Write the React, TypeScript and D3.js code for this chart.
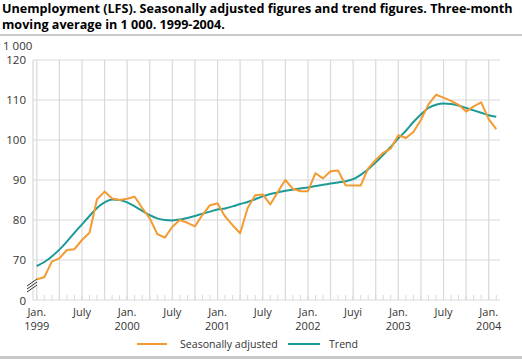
import React from 'react';
import * as d3 from 'd3';

// monthly values, Jan 1999 - Feb 2004 (1 000 persons)
const seasonal = [
  65.2, 65.7, 69.6, 70.4, 72.5, 72.7, 75, 76.8, 85.2, 87.1, 85.4, 85,
  85.3, 85.8, 83, 80.4, 76.5, 75.6, 78.3, 80, 79.3, 78.4, 81.3, 83.7,
  84.2, 80.9, 78.7, 76.7, 83, 86.2, 86.4, 83.9, 87, 90, 87.8, 87.2,
  87.2, 91.7, 90.4, 92.2, 92.4, 88.7, 88.6, 88.6, 92.9, 95, 96.8, 97.9,
  101.2, 100.5, 102, 105, 108.9, 111.3, 110.6, 109.8, 108.8, 107.1, 108.4, 109.4,
  105.2, 102.7,
];
const trend = [
  68.5, 69.5, 70.9, 72.6, 74.6, 76.8, 78.9, 81, 83, 84.4, 85.1, 85,
  84.4, 83.4, 82.3, 81.2, 80.4, 80, 79.9, 80.1, 80.5, 81, 81.6, 82.1,
  82.6, 82.9, 83.4, 84, 84.5, 85.2, 85.9, 86.5, 86.9, 87.3, 87.6, 87.9,
  88.1, 88.5, 88.8, 89.1, 89.4, 89.7, 90.2, 91.3, 92.7, 94.4, 96.3, 98.3,
  100.4, 102.3, 104.5, 106.4, 108, 108.8, 109.1, 109, 108.6, 108, 107.4, 106.8,
  106.2, 105.8,
];
const yTicks = [70, 80, 90, 100, 110, 120];
const xLabels: [number, string[]][] = [
  [0, ['Jan.', '1999']], [6, ['July']], [12, ['Jan.', '2000']], [18, ['July']],
  [24, ['Jan.', '2001']], [30, ['July']], [36, ['Jan.', '2002']], [42, ['Juyi']],
  [48, ['Jan.', '2003']], [54, ['July']], [60, ['Jan.', '2004']],
];
const seriesNames = ['Seasonally adjusted', 'Trend'];

const W = 522;
const H = 359;
const ORANGE = '#f39a32';
const TEAL = '#1b9a96';
const GRID = '#d9d9d9';
const FONT = '"Open Sans", "DejaVu Sans", sans-serif';

const App = () => {
  const x = d3.scaleLinear().domain([-0.5, 61.5]).range([33, 500]);
  const y = d3.scaleLinear().domain([60, 120]).range([300, 60]);

  const line = d3.line<number>()
    .x((d, i) => x(i))
    .y(d => y(d));
  const smooth = d3.line<number>()
    .x((d, i) => x(i))
    .y(d => y(d))
    .curve(d3.curveMonotoneX);

  const quarters = d3.range(0, 61, 3);
  const months = d3.range(0, 62);
  const [x0, x1] = x.range();
  const [yb, yt] = y.range();

  return (
    <svg width={W} height={H} style={{ position: 'absolute', left: 0, top: 0, background: '#fff' }}
      fontFamily={FONT}>
      <text x={2} y={13} fontSize={12.6} fontWeight="bold" fill="#000">
        Unemployment (LFS). Seasonally adjusted figures and trend figures. Three-month
      </text>
      <text x={2} y={29} fontSize={12.6} fontWeight="bold" fill="#000">
        moving average in 1 000. 1999-2004.
      </text>
      <rect x={0} y={34} width={W} height={2} fill="#c8c8c8" />
      <rect x={0} y={356} width={W} height={3} fill="#c8c8c8" />

      {/* grid */}
      {yTicks.map(t => (
        <line key={t} x1={x0} x2={x1} y1={y(t)} y2={y(t)} stroke={GRID} strokeWidth={1.2} />
      ))}
      {quarters.map(q => (
        <line key={q} x1={x(q)} x2={x(q)} y1={yt} y2={yb} stroke={GRID} strokeWidth={1.2} />
      ))}
      {months.map(m => (
        <line key={m} x1={x(m)} x2={x(m)} y1={yb - 5} y2={yb} stroke={GRID} strokeWidth={1} />
      ))}
      <line x1={x0} x2={x0} y1={yt} y2={yb} stroke={GRID} strokeWidth={1.2} />
      <line x1={x0} x2={x1} y1={yb} y2={yb} stroke={GRID} strokeWidth={1.2} />

      {/* axis break */}
      {[0, 3, 6].map(o => (
        <line key={o} x1={x0 - 6} y1={y(62.5) - 4 + o} x2={x0 + 4} y2={y(62.5) - 11 + o}
          stroke="#333" strokeWidth={1} />
      ))}

      {/* y labels */}
      <text x={3} y={y(120) - 10} fontSize={11.5} fill="#333">1 000</text>
      {yTicks.map(t => (
        <text key={t} x={26} y={y(t)} dy="0.35em" fontSize={11.5} fill="#333" textAnchor="end">{t}</text>
      ))}
      <text x={26} y={yb + 1} dy="0.35em" fontSize={11.5} fill="#333" textAnchor="end">0</text>

      {/* x labels */}
      {xLabels.map(([m, lines]) => (
        <g key={m}>
          {lines.map((s, k) => (
            <text key={k} x={x(m)} y={316 + k * 14} fontSize={11} fill="#333" textAnchor="middle">{s}</text>
          ))}
        </g>
      ))}

      <path d={smooth(trend) || ''} fill="none" stroke={TEAL} strokeWidth={2} />
      <path d={line(seasonal) || ''} fill="none" stroke={ORANGE} strokeWidth={2} strokeLinejoin="round" />

      {/* legend */}
      <line x1={137} x2={167} y1={344} y2={344} stroke={ORANGE} strokeWidth={2} />
      <text x={180} y={344} dy="0.35em" fontSize={10.6} fill="#333">{seriesNames[0]}</text>
      <line x1={288} x2={320} y1={344} y2={344} stroke={TEAL} strokeWidth={2} />
      <text x={329} y={344} dy="0.35em" fontSize={10.6} fill="#333">{seriesNames[1]}</text>
    </svg>
  );
};

export default App;
